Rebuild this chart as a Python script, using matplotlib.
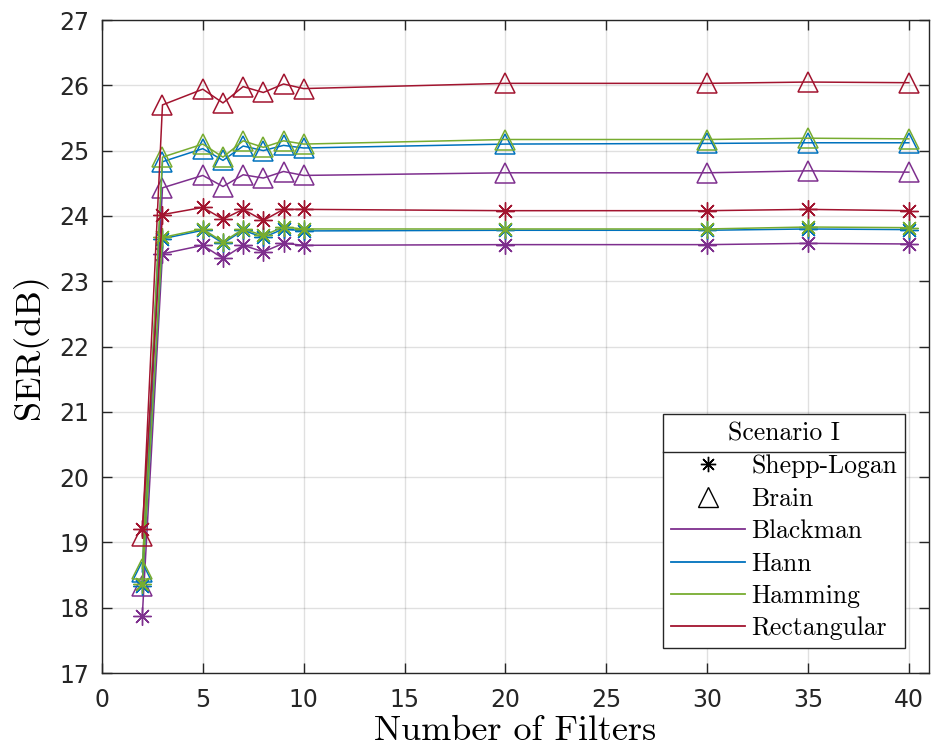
import numpy as np
import matplotlib
matplotlib.use("Agg")
import matplotlib.pyplot as plt
from matplotlib.lines import Line2D

# data
filters = [2, 3, 5, 6, 7, 8, 9, 10, 20, 30, 35, 40]

# Shepp-Logan (asterisk markers)
sl_blackman = [17.88, 23.42, 23.55, 23.35, 23.55, 23.45, 23.58, 23.55, 23.56, 23.56, 23.58, 23.57]
sl_hann = [18.33, 23.65, 23.78, 23.58, 23.78, 23.67, 23.80, 23.77, 23.78, 23.78, 23.80, 23.79]
sl_hamming = [18.36, 23.67, 23.80, 23.60, 23.80, 23.70, 23.83, 23.80, 23.80, 23.80, 23.83, 23.82]
sl_rect = [19.20, 24.02, 24.13, 23.95, 24.10, 23.93, 24.10, 24.10, 24.08, 24.08, 24.10, 24.08]

# Brain (triangle markers)
br_blackman = [18.33, 24.43, 24.62, 24.45, 24.63, 24.58, 24.68, 24.62, 24.66, 24.66, 24.69, 24.67]
br_hann = [18.55, 24.83, 25.03, 24.85, 25.07, 25.00, 25.08, 25.04, 25.10, 25.11, 25.12, 25.12]
br_hamming = [18.60, 24.90, 25.10, 24.90, 25.15, 25.05, 25.15, 25.10, 25.17, 25.17, 25.19, 25.18]
br_rect = [19.10, 25.70, 25.94, 25.73, 25.98, 25.89, 26.02, 25.95, 26.03, 26.03, 26.05, 26.04]

windows = ["Blackman", "Hann", "Hamming", "Rectangular"]
colors = ["#7E2F8E", "#0072BD", "#77AC30", "#A2142F"]
sl_data = [sl_blackman, sl_hann, sl_hamming, sl_rect]
br_data = [br_blackman, br_hann, br_hamming, br_rect]

star = (8, 2, 0)

fig = plt.figure(figsize=(9.32, 7.55), dpi=100)
ax = fig.add_axes([0.1094, 0.1086, 0.8874, 0.8649])

for c, s, b in zip(colors, sl_data, br_data):
    ax.plot(filters, s, color=c, lw=1.1, marker=star, ms=13, mew=1.0)
    ax.plot(filters, b, color=c, lw=1.1, marker="^", ms=14, mew=1.1,
            markerfacecolor="none")

ax.set_xlim(0, 41)
ax.set_ylim(17, 27)
ax.set_xticks(np.arange(0, 41, 5))
ax.set_yticks(np.arange(17, 28, 1))
ax.grid(True, color="#000000", alpha=0.12, lw=1.0)
ax.tick_params(direction="in", top=True, right=True, length=7, width=1,
               labelsize=17, colors="#262626")
ax.tick_params(axis="x", pad=11)
ax.tick_params(axis="y", pad=9)
for sp in ax.spines.values():
    sp.set_color("#262626")
    sp.set_linewidth(1.0)

ax.set_xlabel("Number of Filters", fontfamily="cmr10", fontsize=26, labelpad=2)
ax.set_ylabel("SER(dB)", fontfamily="cmr10", fontsize=26, labelpad=8)

handles = [
    Line2D([], [], ls="none", marker=star, color="k", ms=11, mew=1.0),
    Line2D([], [], ls="none", marker="^", color="k", ms=14, mew=1.0,
           markerfacecolor="none"),
]
for c in colors:
    handles.append(Line2D([], [], color=c, lw=1.3))
labels = ["Shepp-Logan", "Brain"] + windows

leg = ax.legend(handles, labels, loc="lower right", bbox_to_anchor=(0.971, 0.038),
                title="Scenario I", prop={"family": "cmr10", "size": 18.5},
                title_fontproperties={"family": "cmr10", "size": 18.5},
                frameon=True, fancybox=False, edgecolor="#262626",
                framealpha=1.0, handlelength=2.9, handletextpad=0.25,
                labelspacing=0.34, borderpad=0.3, borderaxespad=0)
leg.get_frame().set_linewidth(1.0)

# separator line under the legend title
fig.canvas.draw()
r = fig.canvas.get_renderer()
fb = leg.get_frame().get_window_extent(r)
tb = leg.get_title().get_window_extent(r)
ysep = tb.y0 - 6
inv = fig.transFigure.inverted()
(x0, y0) = inv.transform((fb.x0, ysep))
(x1, _) = inv.transform((fb.x1, ysep))
fig.add_artist(Line2D([x0, x1], [y0, y0], color="#262626", lw=1.0,
                      transform=fig.transFigure))

fig.savefig("out.png", dpi=100)
